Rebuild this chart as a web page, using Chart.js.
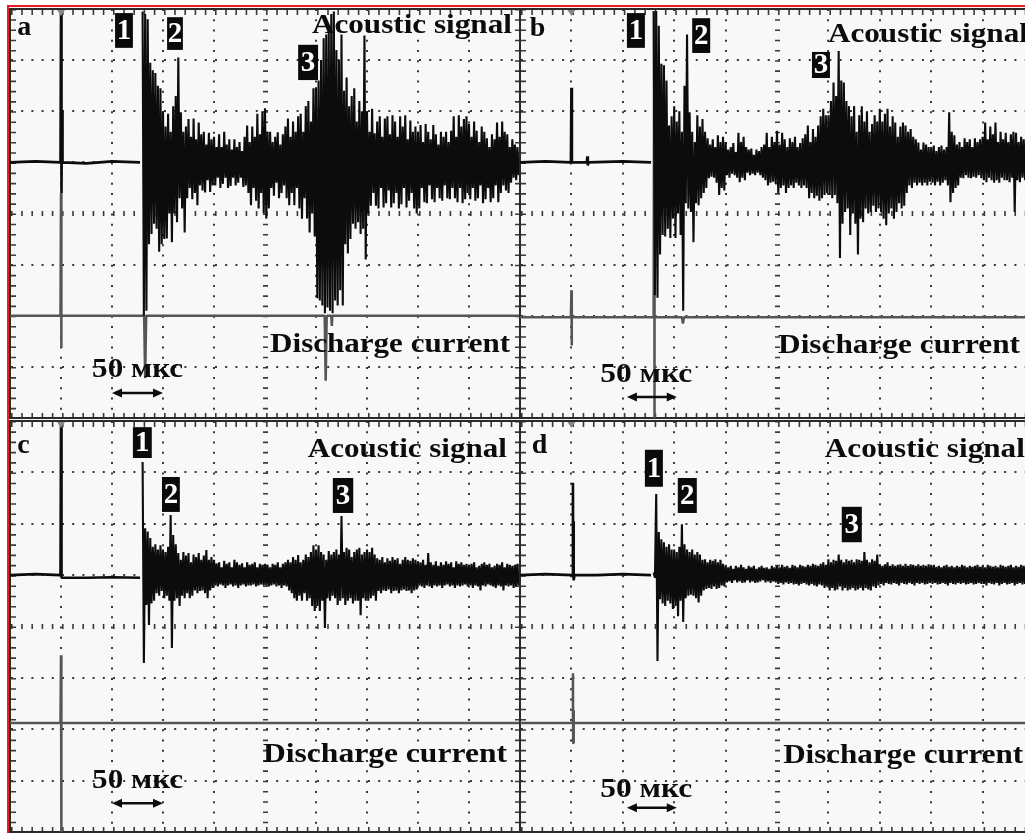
<!DOCTYPE html>
<html>
<head>
<meta charset="utf-8">
<script src="https://cdn.jsdelivr.net/npm/chart.js@4.4.1/dist/chart.umd.min.js"></script>
<style>
  html, body { margin: 0; padding: 0; background: #fff; overflow: hidden; width: 1025px; height: 833px; }
  #frame { position: absolute; left: 7px; top: 5px; width: 1040px; height: 840px;
           border-top: 2px solid #ea1c24; border-left: 2px solid #ea1c24; background: #f8f8f8; }
  canvas { position: absolute; }
</style>
</head>
<body>
<div id="frame"></div>
<canvas id="panelA" width="512" height="411" style="left:9px;top:8px"></canvas>
<canvas id="panelB" width="516" height="411" style="left:519px;top:8px"></canvas>
<canvas id="panelC" width="512" height="413" style="left:9px;top:420px"></canvas>
<canvas id="panelD" width="516" height="413" style="left:519px;top:420px"></canvas>
<script>
// time in screen divisions (1 div = 50 us), amplitude in divisions
const STEP = 0.05;        // spacing of the burst peak samples
const BURST_START = 2.6;  // where the burst records begin
const ACOUSTIC_BASE = 5;  // acoustic trace zero level

// ---- record a ----
const leadTimeA = [0, 0.5, 0.99, 1.0, 1.005, 1.01, 1.015, 1.02, 1.03, 1.5, 2.0, 2.55];
const leadA     = [0, 0.02, 0, 2.93, -0.6, 1.08, -0.55, 1.0, 0, -0.02, 0.02, 0];
const hiA = [
  2.95, 2.9, 2.8, 1.95, 1.8, 1.75, 1.5, 1.45,
  1.0, 0.7, 0.95, 0.6, 1.1, 1.3, 2.05, 0.98, 0.6, 0.7, 0.85, 0.5, 0.86, 0.45, 0.78, 0.55, 0.6, 0.35, 0.58, 0.45,
  0.5, 0.3, 0.55, 0.3, 0.6, 0.35, 0.45, 0.25, 0.45, 0.3, 0.4, 0.22, 0.5, 0.72, 0.4, 0.7, 0.5, 0.95, 0.55, 1.0,
  1.06, 0.6, 0.6, 0.4, 0.5, 0.59, 0.35, 0.55, 0.7, 0.86, 0.5, 0.8, 0.6, 0.9, 0.95, 0.6, 1.1, 1.2, 0.8, 1.45,
  1.47, 1.6, 2.0, 2.43, 2.5, 2.6, 2.9, 2.95, 2.2, 2.0, 2.5, 1.4, 1.66, 1.1, 1.3, 1.45, 0.8, 1.2, 1.0, 2.48,
  1.0, 0.6, 1.05, 0.57, 0.8, 0.9, 0.5, 0.86, 0.9, 0.55, 0.92, 0.8, 0.5, 0.9, 0.7, 0.92, 0.45, 0.82, 0.6, 0.7,
  0.6, 0.73, 0.4, 0.75, 0.6, 0.45, 0.73, 0.55, 0.35, 0.6, 0.5, 0.6, 0.4, 0.62, 0.9, 0.5, 0.92, 0.7, 0.85, 0.9,
  0.75, 0.5, 0.8, 0.62, 0.4, 0.7, 0.6, 0.47, 0.3, 0.55, 0.45, 0.78, 0.5, 0.8, 0.6, 0.55, 0.3, 0.45, 0.35, 0.3
];
const loA = [
  -3.0, -2.9, -1.6, -1.4, -1.2, -1.3, -1.75, -1.6,
  -1.5, -1.49, -1.0, -1.56, -1.0, -1.17, -0.7, -0.9, -1.37, -0.7, -0.5, -0.72, -0.6, -0.84, -0.45, -0.55, -0.59, -0.35, -0.58, -0.45,
  -0.45, -0.3, -0.5, -0.42, -0.3, -0.5, -0.46, -0.3, -0.45, -0.4, -0.3, -0.48, -0.45, -0.6, -0.84, -0.5, -0.75, -0.9, -0.6, -1.0,
  -1.1, -0.9, -0.5, -0.65, -0.4, -0.7, -0.6, -0.45, -0.7, -0.84, -0.6, -0.84, -0.5, -0.9, -1.1, -0.7, -1.1, -1.37, -1.0, -1.45,
  -2.66, -2.7, -2.8, -2.95, -2.84, -2.9, -2.95, -2.7, -2.8, -2.5, -2.8, -1.6, -1.78, -1.5, -1.2, -1.3, -1.17, -1.4, -1.3, -1.9,
  -1.0, -0.85, -0.6, -0.85, -0.9, -0.5, -0.88, -0.8, -0.55, -0.88, -0.8, -0.6, -0.9, -0.82, -0.5, -0.88, -0.75, -0.6, -0.9, -1.0,
  -0.9, -0.5, -0.78, -0.8, -0.45, -0.72, -0.78, -0.5, -0.7, -0.75, -0.45, -0.7, -0.72, -0.5, -0.7, -0.78, -0.5, -0.8, -0.72, -0.6,
  -0.72, -0.5, -0.75, -0.7, -0.45, -0.8, -0.72, -0.5, -0.78, -0.7, -0.45, -0.78, -0.6, -0.45, -0.55, -0.6, -0.4, -0.3, -0.35, -0.25
];
const dischTimeA = [0, 0.99, 1.0, 1.005, 1.01, 2.63, 2.65, 2.67, 6.17, 6.19, 6.21, 6.3, 6.31, 6.32, 10];
const dischA     = [0, 0, 2.4, -0.63, 0, 0, -1.22, 0, 0, -1.27, 0, 0, -0.2, 0, 0];

// ---- record b ----
const leadTimeB = [0, 0.5, 0.99, 1.0, 1.01, 1.3, 1.31, 1.32, 1.33, 2.0, 2.55];
const leadB     = [0, 0.02, 0, 1.46, 0, 0, 0.12, -0.06, 0, 0.02, 0];
const hiB = [
  2.96, 2.96, 2.67, 1.93, 1.9, 1.6, 0.72, 0.9,
  1.1, 0.8, 1.0, 0.6, 1.5, 2.5, 0.98, 0.6, 0.4, 0.92, 0.7, 0.85, 0.6, 0.47, 0.35, 0.45, 0.3, 0.53, 0.4, 0.5,
  0.4, 0.25, 0.3, 0.38, 0.2, 0.58, 0.4, 0.5, 0.3, 0.25, 0.27, 0.15, 0.25, 0.22, 0.3, 0.35, 0.58, 0.3, 0.5, 0.4,
  0.62, 0.35, 0.58, 0.45, 0.3, 0.47, 0.4, 0.5, 0.3, 0.38, 0.47, 0.55, 0.72, 0.4, 0.65, 0.5, 0.72, 0.9, 1.05, 0.92,
  0.92, 1.2, 1.56, 1.3, 2.18, 1.6, 1.56, 1.2, 1.1, 0.9, 1.1, 0.6, 0.92, 1.1, 0.8, 1.0, 0.6, 0.75, 0.92, 0.8,
  1.05, 0.8, 0.95, 1.05, 0.7, 0.9, 0.78, 0.5, 0.7, 0.78, 0.72, 0.6, 0.65, 0.5, 0.45, 0.39, 0.25, 0.39, 0.35, 0.3,
  0.3, 0.33, 0.22, 0.3, 0.33, 0.25, 0.3, 0.98, 0.6, 0.53, 0.35, 0.4, 0.3, 0.47, 0.4, 0.45, 0.3, 0.47, 0.4, 0.45,
  0.5, 0.78, 0.45, 0.7, 0.55, 0.78, 0.4, 0.6, 0.45, 0.58, 0.4, 0.55, 0.6, 0.58, 0.4, 0.5, 0.45, 0.5, 0.4, 0.45
];
const loB = [
  -2.6, -2.65, -1.8, -1.42, -1.45, -1.3, -1.48, -1.1,
  -1.48, -1.0, -1.42, -2.9, -0.8, -0.9, -0.97, -1.56, -0.8, -0.84, -0.7, -0.6, -0.5, -0.31, -0.28, -0.3, -0.4, -0.64, -0.5, -0.55,
  -0.25, -0.3, -0.22, -0.25, -0.3, -0.39, -0.3, -0.35, -0.2, -0.25, -0.22, -0.25, -0.2, -0.25, -0.3, -0.35, -0.45, -0.4, -0.38, -0.42,
  -0.6, -0.5, -0.45, -0.6, -0.5, -0.45, -0.5, -0.4, -0.45, -0.5, -0.45, -0.5, -0.7, -0.6, -0.7, -0.65, -0.75, -0.7, -0.64, -0.6,
  -0.64, -0.7, -0.64, -0.8, -1.87, -1.2, -0.97, -0.9, -1.42, -1.0, -1.2, -1.8, -1.1, -1.17, -0.9, -1.0, -0.97, -0.85, -0.97, -0.9,
  -0.97, -1.1, -1.23, -1.0, -0.9, -1.1, -0.97, -0.8, -0.9, -0.85, -0.6, -0.45, -0.5, -0.4, -0.45, -0.4, -0.45, -0.4, -0.45, -0.38,
  -0.4, -0.45, -0.38, -0.45, -0.4, -0.35, -0.45, -0.78, -0.6, -0.5, -0.45, -0.3, -0.31, -0.25, -0.3, -0.31, -0.28, -0.3, -0.25, -0.31,
  -0.35, -0.39, -0.3, -0.35, -0.4, -0.35, -0.4, -0.3, -0.35, -0.35, -0.39, -0.3, -0.97, -0.35, -0.39, -0.3, -0.35, -0.3, -0.35, -0.3
];
const dischTimeB = [0, 0.99, 1.0, 1.005, 1.01, 2.6, 2.61, 2.615, 2.62, 3.15, 3.17, 3.19, 10];
const dischB     = [0, 0, 0.53, -0.55, 0, 0, 5.95, -2.0, 0, 0, -0.12, 0, 0];

// ---- record c ----
const leadTimeC = [0, 0.5, 0.99, 1.0, 1.01, 1.5, 2.0, 2.55];
const leadC     = [0, 0.02, 0, 2.95, -0.05, -0.05, -0.04, -0.05];
const hiC = [
  2.2, 0.91, 0.85, 0.72, 0.55, 0.6, 0.5, 0.58,
  0.5, 0.45, 0.55, 1.17, 0.78, 0.6, 0.43, 0.3, 0.45, 0.38, 0.43, 0.25, 0.4, 0.35, 0.43, 0.3, 0.38, 0.49, 0.3, 0.35,
  0.3, 0.23, 0.25, 0.15, 0.28, 0.22, 0.25, 0.15, 0.3, 0.25, 0.2, 0.23, 0.15, 0.25, 0.2, 0.22, 0.25, 0.15, 0.22, 0.2,
  0.22, 0.2, 0.15, 0.22, 0.2, 0.25, 0.15, 0.22, 0.25, 0.3, 0.25, 0.35, 0.3, 0.39, 0.25, 0.3, 0.4, 0.35, 0.45, 0.58,
  0.5, 0.58, 0.45, 0.4, 0.3, 0.47, 0.4, 0.45, 0.5, 0.4, 1.15, 0.45, 0.53, 0.5, 0.35, 0.45, 0.5, 0.53, 0.4, 0.45,
  0.5, 0.45, 0.53, 0.4, 0.33, 0.3, 0.35, 0.25, 0.33, 0.28, 0.35, 0.3, 0.33, 0.22, 0.3, 0.35, 0.3, 0.28, 0.33, 0.3,
  0.27, 0.25, 0.3, 0.2, 0.43, 0.25, 0.2, 0.27, 0.18, 0.25, 0.2, 0.27, 0.22, 0.25, 0.15, 0.27, 0.22, 0.25, 0.2, 0.22,
  0.2, 0.22, 0.25, 0.15, 0.18, 0.22, 0.25, 0.2, 0.22, 0.15, 0.18, 0.22, 0.2, 0.25, 0.15, 0.22, 0.2, 0.18, 0.2, 0.22
];
const loC = [
  -1.71, -0.58, -0.97, -0.55, -0.5, -0.35, -0.4, -0.31,
  -0.45, -0.4, -0.5, -1.42, -0.5, -0.45, -0.6, -0.4, -0.45, -0.35, -0.45, -0.4, -0.3, -0.35, -0.31, -0.3, -0.35, -0.45, -0.3, -0.25,
  -0.2, -0.22, -0.18, -0.2, -0.25, -0.2, -0.18, -0.22, -0.2, -0.25, -0.2, -0.18, -0.22, -0.2, -0.2, -0.18, -0.22, -0.2, -0.18, -0.2,
  -0.2, -0.22, -0.2, -0.18, -0.22, -0.2, -0.25, -0.2, -0.22, -0.3, -0.35, -0.45, -0.5, -0.4, -0.5, -0.35, -0.5, -0.45, -0.6, -0.7,
  -0.6, -0.7, -0.5, -1.03, -0.45, -0.5, -0.4, -0.45, -0.58, -0.5, -0.45, -0.58, -0.5, -0.45, -0.55, -0.5, -0.5, -0.78, -0.45, -0.5,
  -0.5, -0.45, -0.4, -0.5, -0.31, -0.35, -0.3, -0.31, -0.28, -0.35, -0.31, -0.3, -0.35, -0.3, -0.28, -0.31, -0.3, -0.35, -0.3, -0.28,
  -0.2, -0.22, -0.25, -0.2, -0.22, -0.25, -0.2, -0.22, -0.2, -0.25, -0.2, -0.18, -0.22, -0.2, -0.25, -0.2, -0.22, -0.2, -0.18, -0.22,
  -0.2, -0.25, -0.2, -0.22, -0.3, -0.2, -0.22, -0.18, -0.2, -0.22, -0.25, -0.2, -0.22, -0.3, -0.2, -0.22, -0.2, -0.25, -0.22, -0.2
];
const dischTimeC = [0, 0.99, 1.0, 1.005, 1.01, 10];
const dischC     = [0, 0, 1.32, -2.2, 0, 0];

// ---- record d ----
const leadTimeD = [0, 0.5, 1.02, 1.03, 1.035, 1.04, 1.045, 1.05, 1.06, 1.5, 2.0, 2.55];
const leadD     = [0, 0.02, 0, 1.8, 0, 1.05, -0.05, -0.1, 0, 0, 0.02, 0];
const hiD = [
  0.05, 1.58, 0.84, 0.7, 0.64, 0.55, 0.6, 0.5,
  0.5, 0.45, 0.55, 0.99, 0.6, 0.5, 0.45, 0.5, 0.4, 0.45, 0.4, 0.3, 0.31, 0.25, 0.3, 0.28, 0.31, 0.25, 0.3, 0.22,
  0.18, 0.15, 0.18, 0.12, 0.18, 0.15, 0.2, 0.15, 0.12, 0.18, 0.15, 0.18, 0.12, 0.15, 0.18, 0.14, 0.15, 0.12, 0.18, 0.15,
  0.18, 0.15, 0.2, 0.16, 0.18, 0.14, 0.2, 0.18, 0.15, 0.2, 0.18, 0.16, 0.2, 0.18, 0.22, 0.2, 0.18, 0.22, 0.25, 0.2,
  0.31, 0.25, 0.3, 0.28, 0.4, 0.3, 0.25, 0.31, 0.28, 0.3, 0.25, 0.31, 0.3, 0.28, 0.45, 0.3, 0.25, 0.31, 0.28, 0.4,
  0.21, 0.18, 0.21, 0.25, 0.18, 0.21, 0.18, 0.2, 0.21, 0.18, 0.22, 0.18, 0.21, 0.2, 0.18, 0.21, 0.18, 0.2, 0.18, 0.21,
  0.18, 0.2, 0.16, 0.18, 0.15, 0.18, 0.2, 0.16, 0.18, 0.15, 0.18, 0.16, 0.2, 0.18, 0.15, 0.18, 0.16, 0.18, 0.2, 0.16,
  0.18, 0.15, 0.2, 0.18, 0.16, 0.18, 0.15, 0.2, 0.18, 0.16, 0.18, 0.2, 0.15, 0.18, 0.16, 0.2, 0.18, 0.15, 0.18, 0.16
];
const loD = [
  -0.05, -1.67, -0.47, -0.55, -0.6, -0.5, -0.55, -0.66,
  -0.6, -0.8, -0.5, -0.91, -0.45, -0.4, -0.38, -0.4, -0.45, -0.53, -0.4, -0.3, -0.27, -0.25, -0.27, -0.22, -0.27, -0.25, -0.2, -0.22,
  -0.14, -0.12, -0.15, -0.1, -0.14, -0.12, -0.15, -0.14, -0.1, -0.14, -0.12, -0.15, -0.14, -0.12, -0.1, -0.14, -0.12, -0.15, -0.12, -0.14,
  -0.17, -0.15, -0.18, -0.14, -0.17, -0.15, -0.18, -0.17, -0.2, -0.17, -0.15, -0.18, -0.2, -0.17, -0.2, -0.22, -0.18, -0.2, -0.25, -0.22,
  -0.3, -0.25, -0.3, -0.28, -0.22, -0.3, -0.25, -0.3, -0.28, -0.25, -0.3, -0.28, -0.25, -0.3, -0.25, -0.28, -0.3, -0.22, -0.25, -0.2,
  -0.17, -0.2, -0.15, -0.17, -0.18, -0.15, -0.17, -0.2, -0.15, -0.17, -0.18, -0.15, -0.17, -0.2, -0.15, -0.17, -0.15, -0.18, -0.17, -0.15,
  -0.17, -0.15, -0.18, -0.17, -0.15, -0.17, -0.2, -0.15, -0.17, -0.18, -0.15, -0.17, -0.15, -0.18, -0.17, -0.15, -0.18, -0.17, -0.15, -0.17,
  -0.17, -0.2, -0.15, -0.17, -0.18, -0.15, -0.2, -0.17, -0.15, -0.18, -0.17, -0.15, -0.2, -0.17, -0.15, -0.18, -0.17, -0.2, -0.15, -0.17
];
const dischTimeD = [0, 1.02, 1.03, 1.035, 1.04, 1.05, 10];
const dischD     = [0, 0, 0.97, -0.39, 0.25, 0, 0];

const GRID_COLOR = '#3a3a3a';
const EDGE_COLOR = '#2a2a2a';
const SERIF = '"Liberation Serif", "Times New Roman", serif';

function series(times, values, base) {
  return times.map((t, i) => ({ x: t, y: base + values[i] }));
}

// every sample is one swing up to its positive peak and back down to its negative peak
function burst(hi, lo) {
  const pts = [];
  hi.forEach((h, i) => {
    const t = BURST_START + i * STEP;
    pts.push({ x: t, y: ACOUSTIC_BASE + h });
    pts.push({ x: t + STEP / 2, y: ACOUSTIC_BASE + lo[i] });
  });
  return pts;
}

// graticule: dotted major lines, ruled centre lines and ruled edges
function isEdge(c) { return c.tick.value === c.scale.min || c.tick.value === c.scale.max; }
function isCentre(c) { return c.tick.value === (c.scale.min + c.scale.max) / 2; }
function graticuleWidth(c) {
  if (!c.tick) return 1;
  if (isEdge(c)) return 11;
  if (isCentre(c)) return 5;
  return 2;
}
function graticuleDash(c, other) {
  if (!c.tick) return [];
  const s = c.chart.scales[other];
  const minor = Math.abs(s.getPixelForValue(0.2) - s.getPixelForValue(0));
  const mark = (isEdge(c) || isCentre(c)) ? 1.6 : 2;
  return [mark, minor - mark];
}

function stretchText(ctx, text, x, y, width) {
  const w = ctx.measureText(text).width;
  ctx.save();
  ctx.translate(x, y);
  ctx.scale(width / w, 1);
  ctx.fillText(text, 0, 0);
  ctx.restore();
}

const scopeLabels = {
  id: 'scopeLabels',
  afterDraw(chart, args, opts) {
    const { ctx, scales: { x, y } } = chart;
    const px = v => x.getPixelForValue(v);
    const py = v => y.getPixelForValue(v);
    ctx.save();
    ctx.textBaseline = 'alphabetic';

    // trigger mark
    ctx.fillStyle = '#888';
    ctx.beginPath();
    ctx.moveTo(px(opts.trigger) - 4, py(8) + 1);
    ctx.lineTo(px(opts.trigger) + 4, py(8) + 1);
    ctx.lineTo(px(opts.trigger), py(8) + 7);
    ctx.fill();

    ctx.fillStyle = '#0c0c0c';
    ctx.font = 'bold 28px ' + SERIF;
    ctx.fillText(opts.letter.text, px(opts.letter.x), py(opts.letter.y));
    [opts.acoustic, opts.discharge, opts.scale].forEach(l => {
      ctx.font = 'bold ' + (l.size || 27) + 'px ' + SERIF;
      stretchText(ctx, l.text, px(l.x), py(l.y), l.w);
    });

    // 50 us bar
    const a = opts.arrow, ay = py(a.y), x1 = px(a.x1), x2 = px(a.x2);
    ctx.strokeStyle = '#0c0c0c';
    ctx.lineWidth = 2.5;
    ctx.beginPath();
    ctx.moveTo(x1 + 4, ay);
    ctx.lineTo(x2 - 4, ay);
    ctx.stroke();
    [[x1, 1], [x2, -1]].forEach(([hx, d]) => {
      ctx.beginPath();
      ctx.moveTo(hx, ay);
      ctx.lineTo(hx + d * 10, ay - 4.5);
      ctx.lineTo(hx + d * 10, ay + 4.5);
      ctx.closePath();
      ctx.fill();
    });

    // numbered event boxes
    opts.boxes.forEach(b => {
      const bx = px(b.x1), by = py(b.y1), bw = px(b.x2) - bx, bh = py(b.y2) - by;
      ctx.fillStyle = '#0a0a0a';
      ctx.fillRect(bx, by, bw, bh);
      ctx.fillStyle = '#fff';
      ctx.font = 'bold 29px ' + SERIF;
      ctx.textAlign = 'center';
      ctx.textBaseline = 'middle';
      ctx.fillText(b.n, bx + bw / 2, by + bh / 2 + 1);
      ctx.textAlign = 'left';
      ctx.textBaseline = 'alphabetic';
    });
    ctx.restore();
  }
};

function makePanel(id, lead, hi, lo, disch, dischBase, labels) {
  return new Chart(document.getElementById(id), {
    type: 'line',
    data: {
      datasets: [
        { label: 'Acoustic signal', data: burst(hi, lo), borderColor: '#0c0c0c', borderWidth: 2.1 },
        { label: 'Acoustic signal', data: lead, borderColor: '#0c0c0c', borderWidth: 2.6 },
        { label: 'Discharge current', data: disch.map(p => ({ x: p.x, y: p.y + dischBase })),
          borderColor: '#555', borderWidth: 2.5 }
      ]
    },
    options: {
      responsive: false,
      animation: false,
      events: [],
      layout: { padding: 1 },
      elements: {
        point: { radius: 0 },
        line: { tension: 0, borderJoinStyle: 'bevel', fill: false }
      },
      plugins: { legend: { display: false }, tooltip: { enabled: false }, scopeLabels: labels },
      scales: {
        x: {
          type: 'linear', min: 0, max: 10, position: 'bottom',
          ticks: { display: false, stepSize: 1 },
          grid: { color: GRID_COLOR, lineWidth: graticuleWidth, drawTicks: false },
          border: { display: true, color: EDGE_COLOR, width: 2, dash: c => graticuleDash(c, 'y') }
        },
        y: {
          type: 'linear', min: 0, max: 8, position: 'left',
          ticks: { display: false, stepSize: 1 },
          grid: { color: GRID_COLOR, lineWidth: graticuleWidth, drawTicks: false },
          border: { display: true, color: EDGE_COLOR, width: 2, dash: c => graticuleDash(c, 'x') }
        },
        xTop: {
          type: 'linear', min: 0, max: 10, position: 'top',
          ticks: { display: false }, grid: { display: false, drawTicks: false },
          border: { display: true, color: EDGE_COLOR, width: 2 }
        },
        yRight: {
          type: 'linear', min: 0, max: 8, position: 'right',
          ticks: { display: false }, grid: { display: false, drawTicks: false },
          border: { display: true, color: EDGE_COLOR, width: 2 }
        }
      }
    },
    plugins: [scopeLabels]
  });
}

makePanel('panelA', series(leadTimeA, leadA, ACOUSTIC_BASE), hiA, loA,
  series(dischTimeA, dischA, 0), 2.0, {
    trigger: 1,
    letter: { text: 'a', x: 0.14, y: 7.49 },
    acoustic: { text: 'Acoustic signal', x: 5.92, y: 7.53, w: 200 },
    discharge: { text: 'Discharge current', x: 5.1, y: 1.29, w: 240 },
    scale: { text: '50 мкс', x: 1.61, y: 0.8, w: 91, size: 28 },
    arrow: { x1: 2.0, x2: 3.0, y: 0.49 },
    boxes: [
      { n: '1', x1: 2.06, x2: 2.41, y1: 7.92, y2: 7.24 },
      { n: '2', x1: 3.08, x2: 3.39, y1: 7.84, y2: 7.2 },
      { n: '3', x1: 5.65, x2: 6.04, y1: 7.3, y2: 6.61 }
    ]
  });

makePanel('panelB', series(leadTimeB, leadB, ACOUSTIC_BASE), hiB, loB,
  series(dischTimeB, dischB, 0), 1.97, {
    trigger: 1,
    letter: { text: 'b', x: 0.19, y: 7.47 },
    acoustic: { text: 'Acoustic signal', x: 5.99, y: 7.35, w: 200 },
    discharge: { text: 'Discharge current', x: 5.02, y: 1.27, w: 242 },
    scale: { text: '50 мкс', x: 1.56, y: 0.7, w: 92, size: 28 },
    arrow: { x1: 2.08, x2: 3.05, y: 0.41 },
    boxes: [
      { n: '1', x1: 2.08, x2: 2.43, y1: 7.92, y2: 7.24 },
      { n: '2', x1: 3.35, x2: 3.7, y1: 7.82, y2: 7.14 },
      { n: '3', x1: 5.68, x2: 6.03, y1: 7.16, y2: 6.65 }
    ]
  });

makePanel('panelC', series(leadTimeC, leadC, ACOUSTIC_BASE), hiC, loC,
  series(dischTimeC, dischC, 0), 2.12, {
    trigger: 1,
    letter: { text: 'c', x: 0.14, y: 7.38 },
    acoustic: { text: 'Acoustic signal', x: 5.84, y: 7.3, w: 199 },
    discharge: { text: 'Discharge current', x: 4.96, y: 1.36, w: 244 },
    scale: { text: '50 мкс', x: 1.61, y: 0.86, w: 91, size: 28 },
    arrow: { x1: 2.0, x2: 3.0, y: 0.56 },
    boxes: [
      { n: '1', x1: 2.41, x2: 2.78, y1: 7.88, y2: 7.28 },
      { n: '2', x1: 2.98, x2: 3.33, y1: 6.91, y2: 6.23 },
      { n: '3', x1: 6.33, x2: 6.73, y1: 6.89, y2: 6.21 }
    ]
  });

makePanel('panelD', series(leadTimeD, leadD, ACOUSTIC_BASE), hiD, loD,
  series(dischTimeD, dischD, 0), 2.12, {
    trigger: 1,
    letter: { text: 'd', x: 0.23, y: 7.38 },
    acoustic: { text: 'Acoustic signal', x: 5.93, y: 7.3, w: 200 },
    discharge: { text: 'Discharge current', x: 5.12, y: 1.34, w: 240 },
    scale: { text: '50 мкс', x: 1.56, y: 0.68, w: 92, size: 28 },
    arrow: { x1: 2.08, x2: 3.05, y: 0.47 },
    boxes: [
      { n: '1', x1: 2.43, x2: 2.78, y1: 7.44, y2: 6.72 },
      { n: '2', x1: 3.07, x2: 3.44, y1: 6.89, y2: 6.21 },
      { n: '3', x1: 6.26, x2: 6.65, y1: 6.33, y2: 5.64 }
    ]
  });
</script>
</body>
</html>
